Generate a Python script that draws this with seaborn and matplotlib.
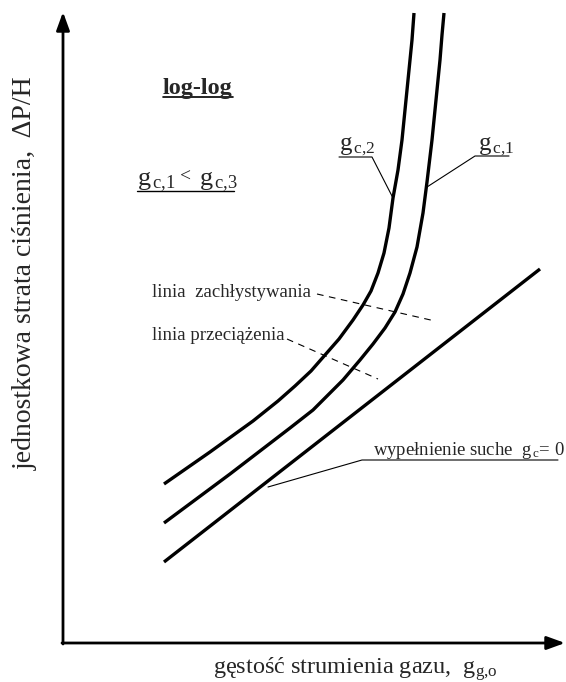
import matplotlib
matplotlib.use("Agg")
import matplotlib.pyplot as plt
import seaborn as sns
import numpy as np

sns.set_theme(style="white")
plt.rcParams['font.family'] = ['Liberation Serif', 'DejaVu Serif']
plt.rcParams['mathtext.fontset'] = 'custom'
plt.rcParams['mathtext.rm'] = 'Liberation Serif'
plt.rcParams['mathtext.it'] = 'Liberation Serif:italic'
plt.rcParams['mathtext.bf'] = 'Liberation Serif:bold'

# ---- data (schematic units, log-log sketch) ----
gc2_x = [101, 147, 190, 215, 232, 248, 262, 276, 290, 300, 308, 315, 321, 326, 330, 335, 339, 343, 346, 349, 351]
gc2_y = [159, 191, 222, 242, 257, 272, 288, 304, 323, 338, 352, 370, 390, 415, 445, 473, 503, 543, 573, 603, 630]

gc1_x = [101, 167, 227, 250, 264, 280, 297, 310, 322, 332, 340, 347, 354, 360, 364, 369, 373, 377, 379, 381]
gc1_y = [120, 169, 215, 233, 247, 263, 283, 299, 315, 331, 349, 370, 396, 430, 461, 503, 543, 583, 608, 630]

dry_x = [101, 477]
dry_y = [81, 374]

flood_x = [254, 372]
flood_y = [349, 322]
load_x = [224, 315]
load_y = [304, 264]

x_label = "gęstość strumienia gazu,  $\\mathrm{g}_{\\mathrm{g{,}o}}$"
y_label = "jednostkowa strata ciśnienia,  ΔP/H"

fig = plt.figure(figsize=(5.66, 6.82), dpi=100)
ax = fig.add_axes([0, 0, 1, 1])
ax.set_xlim(-63, 503)
ax.set_ylim(-39, 643)
ax.axis('off')

lw = 2.4
sns.lineplot(x=gc2_x, y=gc2_y, sort=False, color='black', lw=lw, ax=ax)
sns.lineplot(x=gc1_x, y=gc1_y, sort=False, color='black', lw=lw, ax=ax)
sns.lineplot(x=dry_x, y=dry_y, sort=False, color='black', lw=lw, ax=ax)
for l in ax.lines:
    l.set_solid_joinstyle('round')
    l.set_solid_capstyle('butt')

# dashed lines
ax.plot(flood_x, flood_y, color='black', lw=0.8, ls=(0, (6, 5)))
ax.plot(load_x, load_y, color='black', lw=0.8, ls=(0, (6, 5)))

# axes with arrows
arrow = dict(arrowstyle='-|>,head_length=0.55,head_width=0.2', lw=2.0, color='black',
             shrinkA=0, shrinkB=0, mutation_scale=20)
ax.annotate('', xy=(0, 631), xytext=(0, -1), arrowprops=arrow)
ax.annotate('', xy=(502, 0), xytext=(-1, 0), arrowprops=arrow)

# leaders & underlines
thin = dict(color='black', lw=0.8)
ax.plot([276, 309, 330], [486, 486, 445], **thin)          # g_c,2
ax.plot([446, 412, 364], [487, 487, 456], **thin)          # g_c,1
ax.plot([495, 299, 205], [183, 183, 156], **thin)          # dry
ax.plot([100, 170], [546, 546], color='black', lw=1.2)     # log-log
ax.plot([74, 171], [452, 452], color='black', lw=1.0)      # gc1<gc3

# texts
ax.text(100, 549, "log-log", fontsize=17.5, fontweight='bold', ha='left', va='baseline')
ax.text(74, 458, r"$\mathrm{g}_{\,\mathrm{c{,}1}}$", fontsize=19, ha='left', va='baseline')
ax.text(117, 461, "<", fontsize=14, ha='left', va='baseline')
ax.text(136, 458, r"$\mathrm{g}_{\,\mathrm{c{,}3}}$", fontsize=19, ha='left', va='baseline')
ax.text(276, 493, r"$\mathrm{g}_{\,\mathrm{c{,}2}}$", fontsize=18, ha='left', va='baseline')
ax.text(415, 493, r"$\mathrm{g}_{\,\mathrm{c{,}1}}$", fontsize=18, ha='left', va='baseline')
ax.text(89, 346, "linia  zachłystywania", fontsize=13.5, ha='left', va='baseline')
ax.text(89, 303, "linia przeciążenia", fontsize=13.5, ha='left', va='baseline')
ax.text(310, 188, "wypełnienie suche  $\\mathrm{g}_{\\,\\mathrm{c}}$= 0", fontsize=13.5,
        ha='left', va='baseline')
ax.text(150, -31, x_label, fontsize=17.5, ha='left', va='baseline')
ax.text(-38, 370, y_label, fontsize=20, rotation=90, ha='center', va='center')

fig.savefig("out.png", dpi=100)
